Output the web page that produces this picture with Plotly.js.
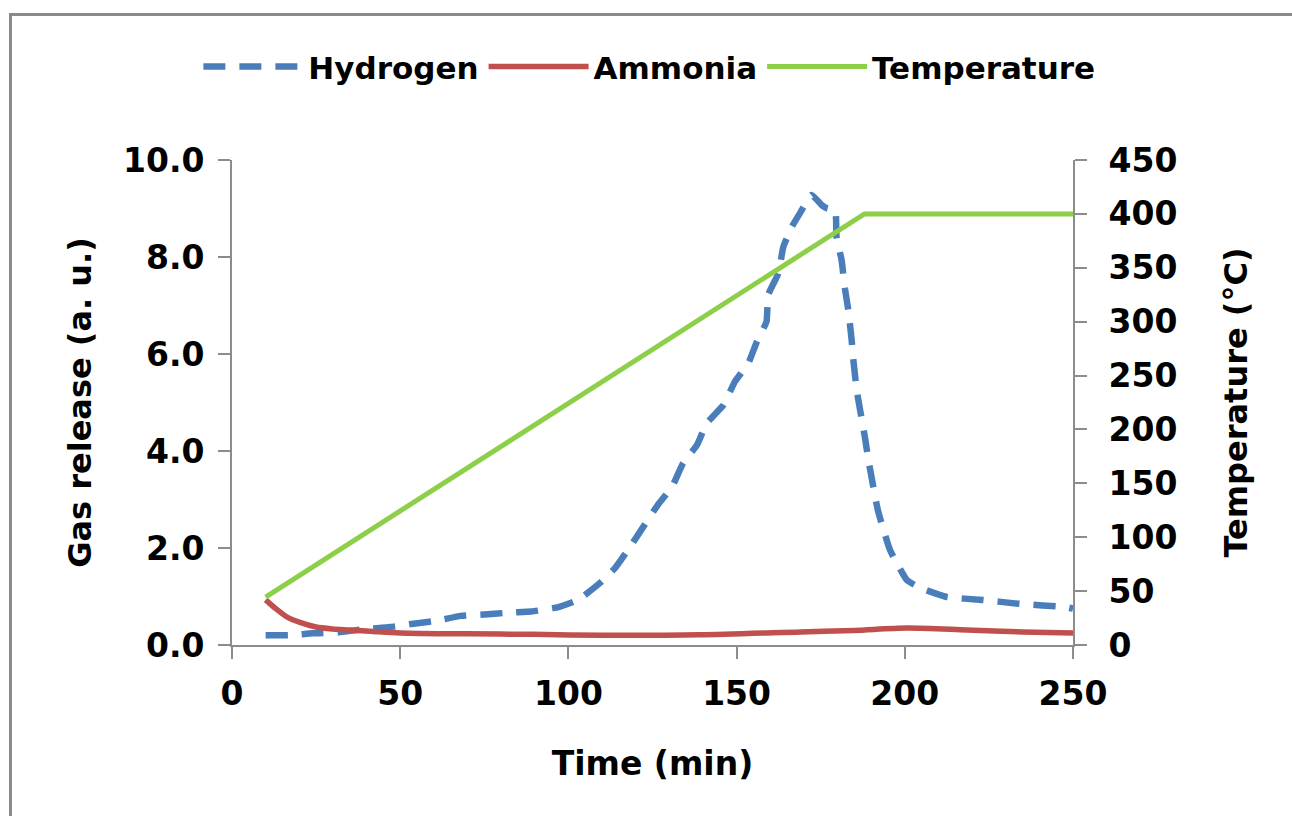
<!DOCTYPE html>
<html>
<head>
<meta charset="utf-8">
<script src="https://cdn.plot.ly/plotly-3.0.1.min.js"></script>
<style>
  html, body { margin: 0; padding: 0; background: #fff; }
  #wrap { position: relative; width: 1292px; height: 816px; }
  #chart { position: absolute; left: 0; top: 0; width: 1292px; height: 816px; }
  #frame { position: absolute; left: 9px; top: 13px; width: 1300px; height: 820px;
           border-top: 3px solid #8a8a8a; border-left: 3px solid #8a8a8a; pointer-events: none; }
</style>
</head>
<body>
<div id="wrap">
  <div id="chart"></div>
  <div id="frame"></div>
</div>
<script>
// Hydrogen (a.u.)
const h2Time = [10, 17, 24, 31.5, 40, 47, 54, 61, 68, 75, 83, 89, 97, 102.9, 109.4, 113.9, 118.3, 122.2, 126.6, 130.8, 134.1, 138.2, 141.1, 146.1, 149.5, 153.5, 156, 158.9, 159.4, 162.4, 163.9, 166.4, 168.8, 172.3, 175.3, 177, 179.3, 179.7, 181.2, 182.2, 183.2, 184.2, 184.7, 185.7, 186.7, 188.2, 189.2, 192, 195.6, 200.6, 204.5, 212.5, 223, 234, 248, 250];
const h2Vals = [0.2, 0.2, 0.24, 0.26, 0.33, 0.37, 0.44, 0.5, 0.6, 0.63, 0.67, 0.69, 0.78, 0.93, 1.28, 1.59, 2.02, 2.43, 2.89, 3.26, 3.75, 4.12, 4.57, 4.95, 5.43, 5.81, 6.25, 6.67, 7.22, 7.66, 8.21, 8.62, 8.9, 9.28, 9.07, 9.0, 8.97, 8.42, 7.94, 7.35, 6.91, 6.29, 5.88, 5.26, 4.85, 4.26, 3.81, 2.78, 1.96, 1.34, 1.18, 0.99, 0.93, 0.85, 0.78, 0.75];

// Ammonia (a.u.)
const nh3Time = [10, 13, 16.3, 20, 25, 30, 35, 42, 50, 70, 89.5, 110, 139, 169, 185, 200.6, 218.5, 235, 250];
const nh3Vals = [0.93, 0.75, 0.58, 0.47, 0.37, 0.33, 0.31, 0.28, 0.25, 0.23, 0.22, 0.2, 0.21, 0.27, 0.3, 0.35, 0.31, 0.27, 0.25];

// Temperature (°C)
const tempTime = [10, 188, 250];
const tempVals = [44.5, 400, 400];

const xTicks = [0, 50, 100, 150, 200, 250];
const yTicks = [0, 2, 4, 6, 8, 10];
const y2Ticks = [0, 50, 100, 150, 200, 250, 300, 350, 400, 450];

const FONT = '"DejaVu Sans", sans-serif';
const axisCol = '#8c8c8c';
const F = { family: FONT, size: 33, color: '#000', weight: 'bold' };
const FT = { family: FONT, size: 32, color: '#000', weight: 'bold' };

const traces = [
  { x: h2Time, y: h2Vals, type: 'scatter', mode: 'lines', name: 'Hydrogen',
    line: { color: '#4a7ebb', width: 6.5, dash: '22px,14px', shape: 'spline', smoothing: 0.4 }, yaxis: 'y' },
  { x: nh3Time, y: nh3Vals, type: 'scatter', mode: 'lines', name: 'Ammonia',
    line: { color: '#c0504d', width: 5.5, shape: 'spline', smoothing: 0.8 }, yaxis: 'y' },
  { x: tempTime, y: tempVals, type: 'scatter', mode: 'lines', name: 'Temperature',
    line: { color: '#8ecf4a', width: 5 }, yaxis: 'y2' }
];

const layout = {
  width: 1292, height: 816,
  margin: { l: 232, r: 219, t: 160, b: 171 },
  paper_bgcolor: '#ffffff', plot_bgcolor: '#ffffff',
  font: F,
  showlegend: true,
  legend: { orientation: 'h', x: -0.04, xanchor: 'left', y: 1.192, yanchor: 'middle',
            font: { family: FONT, size: 31, color: '#000', weight: 'bold' },
            itemwidth: 100, tracegroupgap: 0, bgcolor: 'rgba(0,0,0,0)' },
  xaxis: { range: [0, 250], tickvals: xTicks, ticktext: xTicks.map(String),
           showline: true, linecolor: axisCol, linewidth: 2, ticks: 'outside', ticklen: 12, tickcolor: axisCol, tickwidth: 2,
           showgrid: false, zeroline: false, tickfont: F, ticklabelstandoff: 6,
           title: { text: 'Time (min)', font: F, standoff: 40 } },
  yaxis: { range: [0, 10], tickvals: yTicks, ticktext: yTicks.map(v => v.toFixed(1)),
           showline: true, linecolor: axisCol, linewidth: 2, ticks: 'outside', ticklen: 12, tickcolor: axisCol, tickwidth: 2,
           showgrid: false, zeroline: false, tickfont: F, ticklabelstandoff: 7,
           title: { text: 'Gas release (a. u.)', font: FT, standoff: 22 } },
  yaxis2: { range: [0, 450], tickvals: y2Ticks, ticktext: y2Ticks.map(String), overlaying: 'y', side: 'right',
            showline: true, linecolor: axisCol, linewidth: 2, ticks: 'outside', ticklen: 12, tickcolor: axisCol, tickwidth: 2,
            showgrid: false, zeroline: false, tickfont: F, ticklabelstandoff: 15,
            title: { text: 'Temperature (°C)', font: FT, standoff: 48 } }
};

Plotly.newPlot('chart', traces, layout, { staticPlot: true, displayModeBar: false });
</script>
</body>
</html>
